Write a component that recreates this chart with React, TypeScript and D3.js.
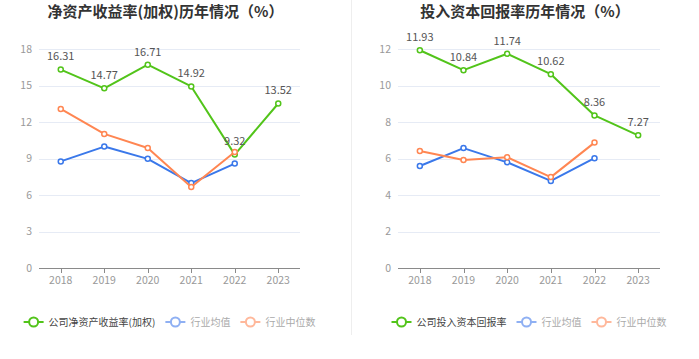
import React, { useEffect, useRef } from "react";
import * as d3 from "d3";

const years = ["2018", "2019", "2020", "2021", "2022", "2023"];

const roeCompany = [16.31, 14.77, 16.71, 14.92, 9.32, 13.52];
const roeMean = [8.76, 9.98, 8.97, 6.98, 8.58];
const roeMedian = [13.07, 11.02, 9.86, 6.66, 9.53];
const roeTicks = [0, 3, 6, 9, 12, 15, 18];

const roicCompany = [11.93, 10.84, 11.74, 10.62, 8.36, 7.27];
const roicMean = [5.59, 6.57, 5.79, 4.77, 6.02];
const roicMedian = [6.41, 5.92, 6.07, 4.98, 6.87];
const roicTicks = [0, 2, 4, 6, 8, 10, 12];

const titles = ["净资产收益率(加权)历年情况（%）", "投入资本回报率历年情况（%）"];
const legendNames = [
  ["公司净资产收益率(加权)", "行业均值", "行业中位数"],
  ["公司投入资本回报率", "行业均值", "行业中位数"],
];

const GREEN = "#52c41a";
const BLUE = "#3a78ea";
const ORANGE = "#ff8652";
const FONT = "'Noto Sans CJK SC', 'Noto Sans', sans-serif";

export default function App() {
  const ref = useRef<SVGSVGElement>(null);
  useEffect(() => {
    const svg = d3.select(ref.current);
    svg.selectAll("*").remove();
    svg.attr("font-family", FONT);

    svg.append("line").attr("x1", 351.5).attr("x2", 351.5).attr("y1", 0).attr("y2", 335)
      .attr("stroke", "#eeeeee").attr("stroke-width", 1);

    const panels = [
      { x0: 39, x1: 300, ticks: roeTicks, max: 18, company: roeCompany, mean: roeMean, median: roeMedian, title: titles[0], legend: legendNames[0] },
      { x0: 398, x1: 660, ticks: roicTicks, max: 12, company: roicCompany, mean: roicMean, median: roicMedian, title: titles[1], legend: legendNames[1] },
    ];

    panels.forEach((p) => {
      const g = svg.append("g");
      const x = d3.scaleBand().domain(years).range([p.x0, p.x1]);
      const y = d3.scaleLinear().domain([0, p.max]).range([268, 49]);
      const cx = (i: number) => (x(years[i]) as number) + x.bandwidth() / 2;

      g.append("text").attr("x", (p.x0 + p.x1) / 2 - 4).attr("y", 17)
        .attr("text-anchor", "middle").attr("font-size", 15).attr("font-weight", "bold")
        .attr("fill", "#333").text(p.title);

      p.ticks.forEach((t) => {
        if (t > 0) {
          g.append("line").attr("x1", p.x0).attr("x2", p.x1).attr("y1", Math.round(y(t)) + 0.5).attr("y2", Math.round(y(t)) + 0.5)
            .attr("stroke", "#e6ebf5").attr("stroke-width", 1);
        }
        g.append("text").attr("x", p.x0 - 7).attr("y", y(t)).attr("dy", "0.35em")
          .attr("text-anchor", "end").attr("font-size", 10.5).attr("fill", "#999").text(String(t));
      });

      g.append("line").attr("x1", p.x0).attr("x2", p.x1).attr("y1", 268.5).attr("y2", 268.5)
        .attr("stroke", "#8a8a8a").attr("stroke-width", 1);
      years.forEach((yr, i) => {
        g.append("line").attr("x1", Math.round(cx(i)) + 0.5).attr("x2", Math.round(cx(i)) + 0.5)
          .attr("y1", 268).attr("y2", 273).attr("stroke", "#8a8a8a");
        g.append("text").attr("x", cx(i)).attr("y", 280).attr("dy", "0.35em")
          .attr("text-anchor", "middle").attr("font-size", 10.5).attr("fill", "#999").text(yr);
      });

      const line = d3.line<number>().x((_, i) => cx(i)).y((d) => y(d));
      const drawSeries = (vals: number[], color: string) => {
        g.append("path").datum(vals).attr("d", line).attr("fill", "none")
          .attr("stroke", color).attr("stroke-width", 2).attr("stroke-linejoin", "round");
        vals.forEach((v, i) => {
          g.append("circle").attr("cx", cx(i)).attr("cy", y(v)).attr("r", 2.5)
            .attr("fill", "#fff").attr("stroke", color).attr("stroke-width", 1.5);
        });
      };

      drawSeries(p.company, GREEN);
      p.company.forEach((v, i) => {
        g.append("text").attr("x", cx(i)).attr("y", y(v) - 13).attr("dy", "0.35em")
          .attr("text-anchor", "middle").attr("font-size", 11).attr("fill", "#555").text(v.toFixed(2));
      });
      drawSeries(p.mean, BLUE);
      drawSeries(p.median, ORANGE);

      const items = [
        { name: p.legend[0], color: GREEN, text: "#444" },
        { name: p.legend[1], color: "#8fb0f3", text: "#aaa" },
        { name: p.legend[2], color: "#ffb89b", text: "#aaa" },
      ];
      const lg = g.append("g");
      let off = 0;
      items.forEach((it) => {
        const ig = lg.append("g").attr("transform", `translate(${off},0)`);
        ig.append("line").attr("x1", 0).attr("x2", 20).attr("y1", 322).attr("y2", 322)
          .attr("stroke", it.color).attr("stroke-width", 2);
        ig.append("circle").attr("cx", 10).attr("cy", 322).attr("r", 4.5)
          .attr("fill", "#fff").attr("stroke", it.color).attr("stroke-width", 2);
        const t = ig.append("text").attr("x", 25).attr("y", 322).attr("dy", "0.35em")
          .attr("font-size", 10).attr("fill", it.text).text(it.name);
        const w = (t.node() as SVGTextElement).getComputedTextLength();
        off += 25 + w + 10;
      });
      const total = off - 10;
      const center = (p.x0 + p.x1) / 2;
      lg.attr("transform", `translate(${center - total / 2},0)`);
    });
  }, []);

  return (
    <svg ref={ref} width={699} height={359} style={{ display: "block", position: "absolute", left: 0, top: 0, background: "#fff" }} />
  );
}
